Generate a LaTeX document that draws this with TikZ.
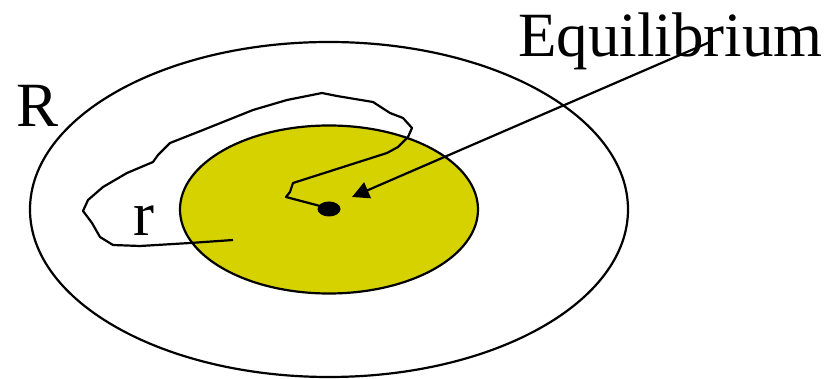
\documentclass[tikz,border=0pt]{standalone}
\usepackage{fontspec}
\setmainfont{Liberation Serif}
\usetikzlibrary{
    arrows.meta,
    shapes.geometric
}
\definecolor{olive}{RGB}{214, 210, 0}
\tikzstyle{region} = [
    ellipse,
    draw=black,
    line width=2.2pt,
    inner sep=0pt
]
\tikzstyle{label} = [
    inner sep=0pt,
    anchor=base west,
    font=\fontsize{63}{70}\selectfont
]
\tikzstyle{pointer} = [
    -{Triangle[length=17pt,width=17pt]},
    line width=2.2pt,
    draw=black
]
\tikzstyle{path} = [
    line width=2.2pt,
    draw=black,
    line join=round
]

\begin{document}
\begin{tikzpicture}[x=1pt, y=-1pt]
        \useasboundingbox (0,0) rectangle (833,379);

        % Outer region R
        \node[region, minimum width=598pt, minimum height=335pt] (outer) at (329,209.5) {};

        % Inner region r
        \node[region, fill=olive, minimum width=298pt, minimum height=168pt] (inner) at (329,209.5) {};

        % Equilibrium point
        \node[ellipse, fill=black, minimum width=23pt, minimum height=15pt, inner sep=0pt] (eq) at (329,209) {};

        % Labels
        \node[label] (lR) at (16,127) {R};
        \node[label] (lr) at (133,236) {r};
        \node[label] (lEq) at (518,57) {Equilibrium};

        % Trajectory
        \coordinate (start) at (233,240);
        \draw[path] (start) -- (190,243) -- (140,246) -- (113,245) -- (100,237)
            -- (92,223) -- (83,211) -- (88,200) -- (103,187) -- (127,173)
            -- (153,162) -- (158,155) -- (170,143) -- (203,130) -- (253,110)
            -- (287,100) -- (322,93) -- (337,96) -- (373,102) -- (390,113)
            -- (403,118) -- (412,128) -- (408,137) -- (398,147) -- (387,153)
            -- (293,183) -- (290,192) -- (286,197) -- (320,206) -- (eq.center);

        % Pointer to equilibrium
        \coordinate (tail) at (710,42);
        \coordinate (tip) at (352,197);
        \draw[pointer] (tail) -- (tip);
    \end{tikzpicture}
\end{document}
